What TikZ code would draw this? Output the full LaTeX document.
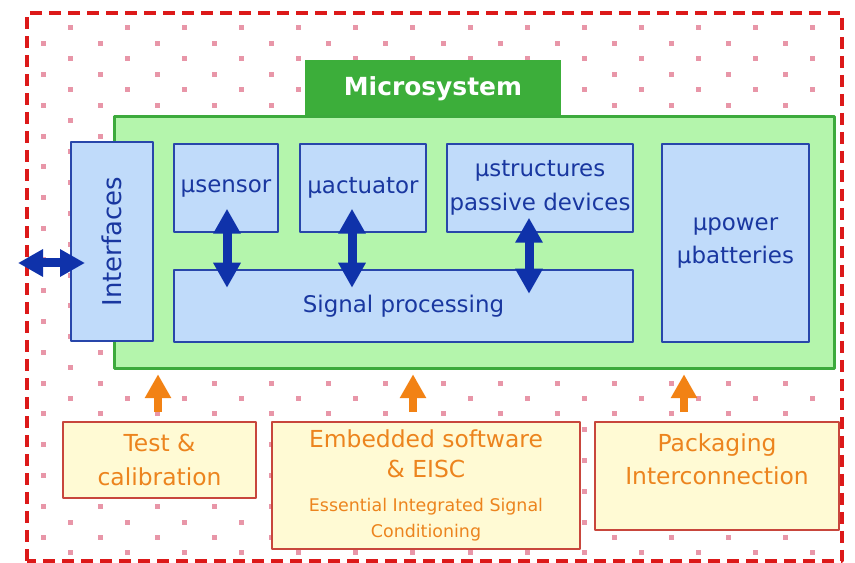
\documentclass[tikz,border=0pt]{standalone}
\usepackage{fontspec}
\setmainfont{DejaVu Sans}
\usetikzlibrary{arrows.meta}
\definecolor{frame}{RGB}{220,25,25}
\definecolor{dotpink}{RGB}{232,150,168}
\definecolor{tabgreen}{RGB}{60,174,58}
\definecolor{microfill}{RGB}{180,245,172}
\definecolor{microline}{RGB}{60,170,60}
\definecolor{unitfill}{RGB}{192,219,250}
\definecolor{unitline}{RGB}{40,70,170}
\definecolor{unittext}{RGB}{25,55,160}
\definecolor{linkblue}{RGB}{15,50,170}
\definecolor{supportfill}{RGB}{255,250,212}
\definecolor{supportline}{RGB}{200,70,60}
\definecolor{supporttext}{RGB}{236,132,30}
\definecolor{feedorange}{RGB}{242,130,20}
\begin{document}
\begin{tikzpicture}[>=latex,line join=bevel,
  unitbox/.style={draw=unitline,fill=unitfill,line width=1.5bp,inner sep=0pt,text=unittext,font=\fontsize{23}{34}\selectfont,align=center},
  supportbox/.style={draw=supportline,fill=supportfill,line width=1.5bp,inner sep=0pt,text=supporttext,font=\fontsize{23.5}{34}\selectfont,align=center},
  linkarrow/.style={draw=linkblue,line width=9bp,{Triangle[width=26bp,length=25bp]}-{Triangle[width=26bp,length=25bp]}},
  feedarrow/.style={draw=feedorange,line width=8bp,-{Triangle[width=25bp,length=24bp]}},
  ]
\useasboundingbox (0bp,0bp) rectangle (855bp,563bp);
%% dotted background
\foreach \k in {0,...,34}{
  \pgfmathsetmacro{\xo}{isodd(\k) ? 43 : 70}
  \foreach \i in {0,...,13}
    \fill [dotpink] ({\xo bp+\i*57.15bp-2.5bp},{535bp-\k*15.44bp-2.5bp}) rectangle ++(5bp,5bp);
}
\draw [frame,line width=3.5bp,dash pattern=on 12bp off 7bp] (27bp,2bp) rectangle (842bp,550bp);
%%
\node (node_title) at (433bp,474bp) [fill=tabgreen,minimum width=256bp,minimum height=58bp,inner sep=0pt,text=white,font=\fontsize{25}{30}\selectfont\bfseries] {Microsystem};
\node (node_micro) at (474bp,320bp) [draw=microline,fill=microfill,line width=3bp,minimum width=720bp,minimum height=252bp] {};
%
\node (node_if) at (112bp,321.5bp) [unitbox,rotate=90,minimum width=199bp,minimum height=82bp,font=\fontsize{26}{30}\selectfont] {Interfaces};
\node (node_sensor) at (226bp,375bp) [unitbox,minimum width=104bp,minimum height=88bp] {µsensor};
\node (node_act) at (363bp,375bp) [unitbox,minimum width=126bp,minimum height=88bp] {µactuator};
\node (node_struct) at (540bp,375bp) [unitbox,minimum width=186bp,minimum height=88bp] {µstructures\\passive devices};
\node (node_power) at (735.5bp,320bp) [unitbox,minimum width=147bp,minimum height=198bp] {µpower\\µbatteries};
\node (node_sig) at (403.5bp,257bp) [unitbox,minimum width=459bp,minimum height=72bp] {Signal processing};
%
\node (node_test) at (159.5bp,103bp) [supportbox,minimum width=193bp,minimum height=76bp] {Test \&\\calibration};
\node (node_soft) at (426bp,77.5bp) [supportbox,minimum width=308bp,minimum height=127bp,font=\fontsize{23.5}{30}\selectfont] {Embedded software\\\& EISC\\[4bp]\fontsize{17.5}{25}\selectfont Essential Integrated Signal\\[-4bp]\fontsize{17.5}{25}\selectfont Conditioning};
\node (node_pack) at (717bp,87bp) [supportbox,minimum width=244bp,minimum height=108bp] {Packaging\\Interconnection\\\mbox{}};
%%
\draw [linkarrow] (node_sensor.south) ++(1bp,24bp) -- ++(0,-79bp);
\draw [linkarrow] (node_act.south) ++(-11bp,24bp) -- ++(0,-79bp);
\draw [linkarrow] (node_struct.south) ++(-11bp,15bp) -- ++(0,-76bp);
\draw [linkarrow] (node_if.center) ++(-94bp,-21.5bp) -- ++(67bp,0);
%
\draw [feedarrow] (node_test.north) ++(-1.5bp,9bp) -- ++(0,38bp);
\draw [feedarrow] (node_soft.north) ++(-13bp,9bp) -- ++(0,38bp);
\draw [feedarrow] (node_pack.north) ++(-33bp,9bp) -- ++(0,38bp);
%
\end{tikzpicture}
\end{document}
